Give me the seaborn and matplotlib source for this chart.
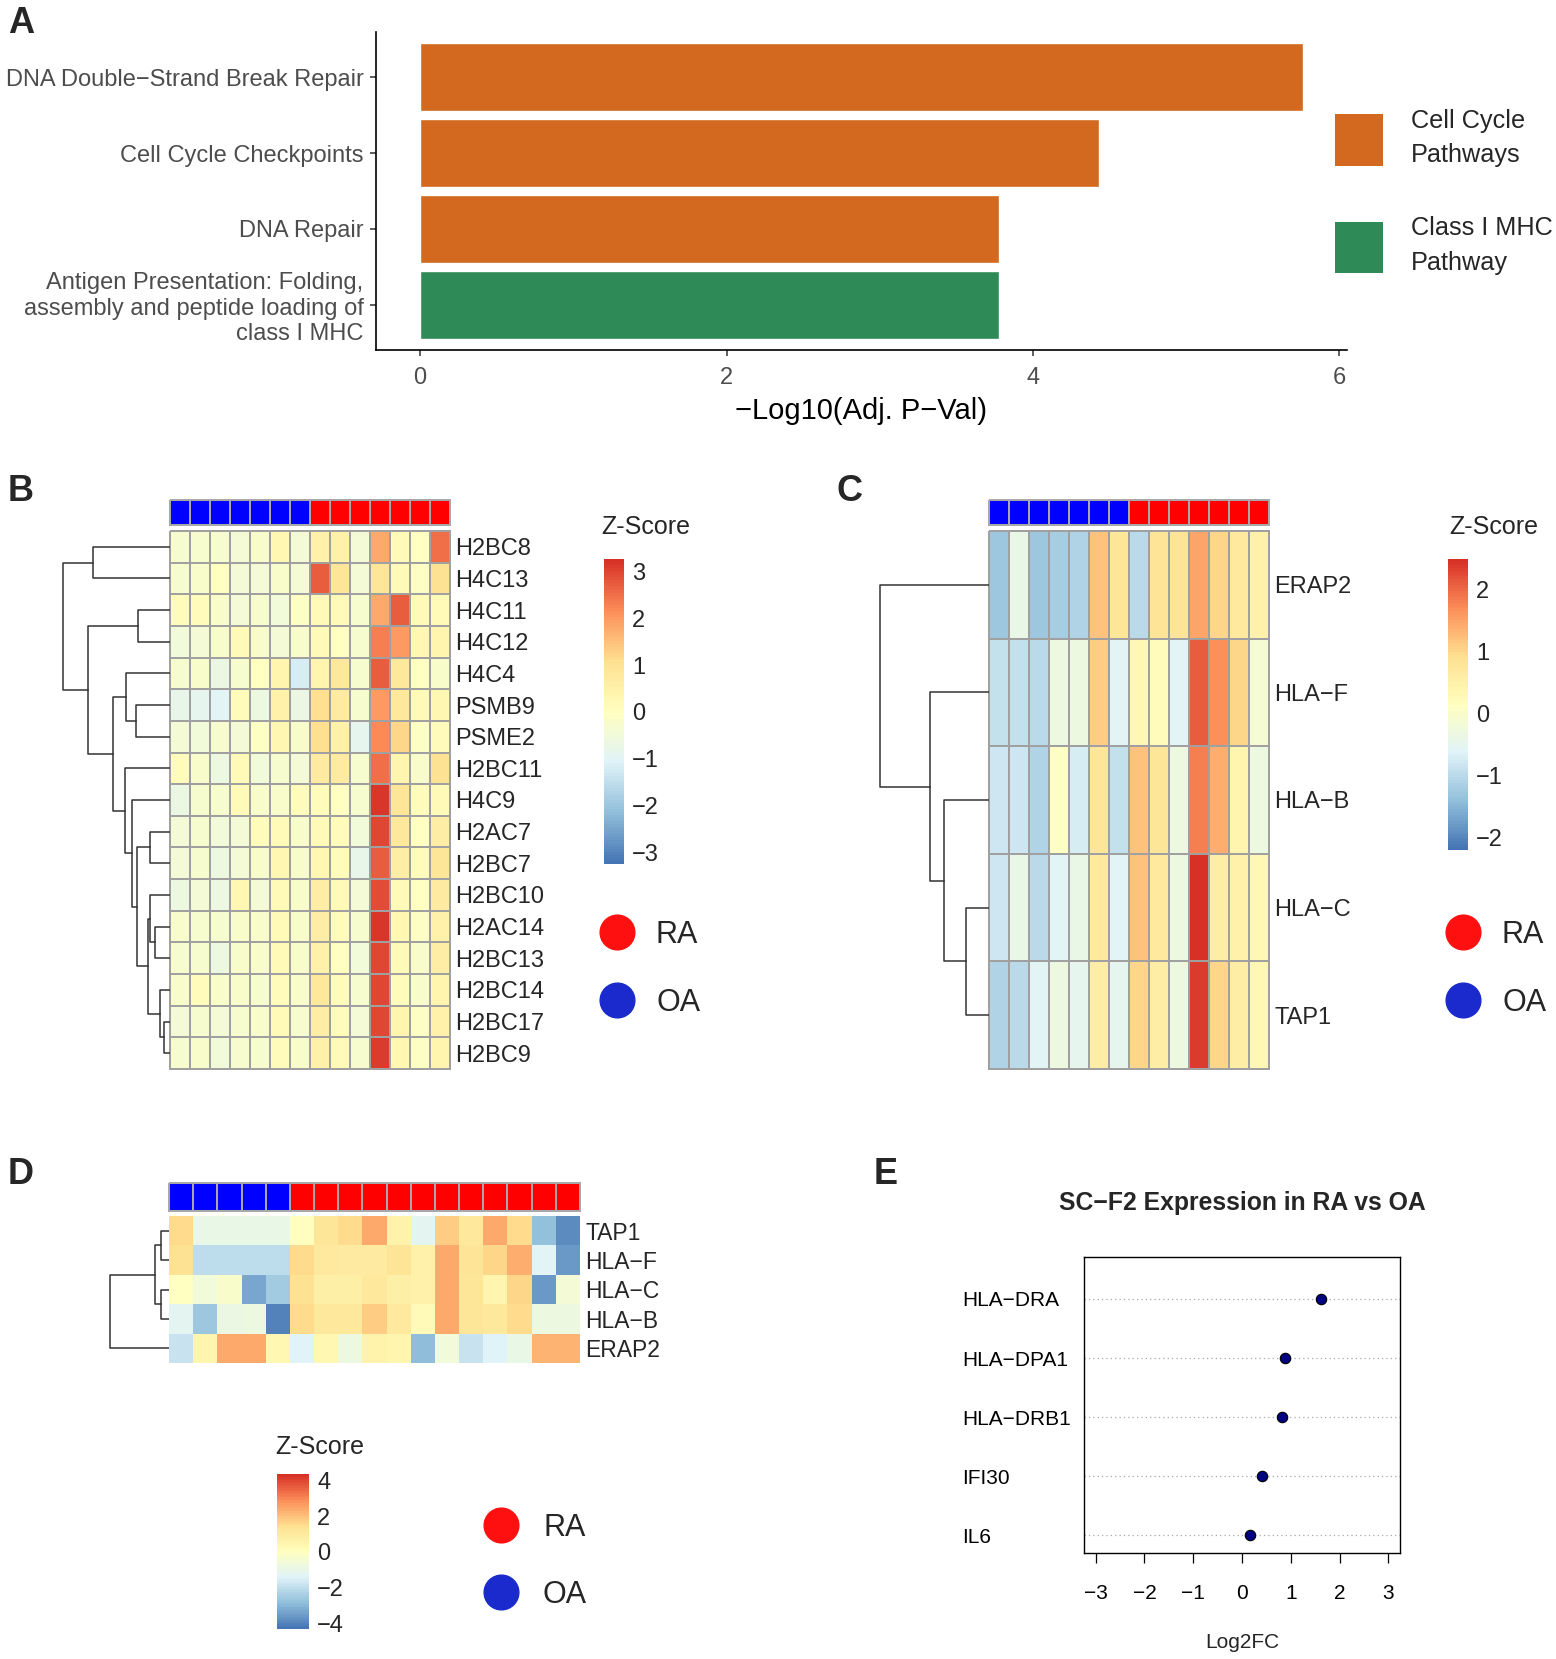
import numpy as np
import pandas as pd
import matplotlib
matplotlib.use("Agg")
import matplotlib.pyplot as plt
import seaborn as sns
from matplotlib.colors import LinearSegmentedColormap, ListedColormap
from matplotlib.patches import Patch
from matplotlib.lines import Line2D

# ---------------- DATA ----------------
# Panel A
A_pathways = ["DNA Double\u2212Strand Break Repair", "Cell Cycle Checkpoints", "DNA Repair",
              "Antigen Presentation: Folding,\nassembly and peptide loading of\nclass I MHC"]
A_neglog10p = [5.76, 4.43, 3.78, 3.78]
A_group = ["Cell Cycle Pathways", "Cell Cycle Pathways", "Cell Cycle Pathways", "Class I MHC Pathway"]
A_group_labels = ["Cell Cycle\nPathways", "Class I MHC\nPathway"]
A_xticks = [0, 2, 4, 6]

# Panel B
B_genes = ["H2BC8", "H4C13", "H4C11", "H4C12", "H4C4", "PSMB9", "PSME2", "H2BC11", "H4C9",
           "H2AC7", "H2BC7", "H2BC10", "H2AC14", "H2BC13", "H2BC14", "H2BC17", "H2BC9"]
B_samples = ["OA", "OA", "OA", "OA", "OA", "OA", "OA", "RA", "RA", "RA", "RA", "RA", "RA", "RA"]
B_z = [
    [-0.3, -0.3, -0.3, -0.4, -0.2, 0.3, -0.4, 0.5, 0.5, -0.4, 1.8, 0.2, 0.0, 2.5],
    [-0.3, -0.2, 0.0, -0.4, -0.4, -0.2, -0.4, 2.7, 0.9, -0.4, 0.9, 0.2, -0.1, 1.0],
    [0.1, 0.1, -0.2, -0.4, -0.3, -0.5, -0.1, 0.2, 0.2, -0.3, 1.8, 2.7, 0.2, 0.2],
    [-0.5, -0.4, -0.2, 0.2, -0.2, -0.4, -0.2, 0.2, 0.0, -0.3, 2.3, 2.0, 0.3, 0.4],
    [-0.3, -0.2, -0.7, -0.3, 0.0, 0.4, -1.2, 0.4, 0.8, -0.3, 2.7, 0.8, 0.0, -0.2],
    [-0.8, -0.9, -1.0, 0.1, -0.6, 0.5, -0.7, 1.1, 0.7, -0.3, 2.0, 0.8, 0.2, 0.3],
    [-0.4, -0.5, -0.3, -0.4, -0.1, 0.3, -0.2, 1.1, 0.5, -0.9, 2.2, 1.2, -0.1, 0.1],
    [0.1, -0.2, -0.6, 0.2, -0.5, -0.3, -0.4, 0.7, 0.7, -0.3, 2.5, 0.4, -0.2, 1.0],
    [-0.7, -0.3, -0.3, 0.2, -0.2, -0.2, 0.1, 0.1, 0.0, -0.3, 3.2, 0.9, 0.1, 0.2],
    [-0.4, -0.3, -0.5, -0.4, 0.1, 0.2, -0.2, 0.2, 0.1, -0.5, 3.0, 0.8, 0.0, 0.6],
    [-0.4, -0.3, -0.6, -0.4, -0.2, 0.3, -0.2, 0.3, 0.1, -0.8, 2.7, 0.6, 0.1, 0.9],
    [-0.6, -0.4, -0.6, 0.3, -0.4, 0.2, -0.2, 0.6, 0.2, -0.4, 2.9, 0.2, 0.0, 0.7],
    [-0.2, -0.3, -0.3, -0.2, -0.2, 0.2, -0.2, 0.6, 0.1, -0.3, 3.2, 0.3, -0.1, 0.5],
    [-0.3, -0.3, -0.6, -0.2, -0.2, 0.2, -0.2, 0.5, 0.0, -0.5, 3.0, 0.2, -0.2, 0.6],
    [-0.2, 0.1, -0.2, -0.2, -0.3, 0.1, -0.2, 0.8, 0.1, -0.3, 3.0, 0.1, -0.2, 0.4],
    [-0.4, -0.3, -0.4, -0.3, -0.2, 0.2, -0.3, 0.6, 0.1, -0.4, 3.0, 0.4, -0.1, 0.5],
    [-0.3, -0.2, -0.5, -0.3, -0.3, 0.1, -0.2, 0.5, 0.2, -0.3, 3.1, 0.3, -0.1, 0.4],
]
B_range = (-3.25, 3.27)
B_cbar_ticks = [3, 2, 1, 0, -1, -2, -3]
# linkage: (child_a, child_b, height); ids >= n_leaves are merges in order
B_link = [(0, 1, 77), (2, 3, 32), (5, 6, 34), (4, 19, 44), (9, 10, 20), (12, 13, 15),
          (11, 22, 20), (15, 16, 6), (14, 24, 10), (23, 25, 22), (21, 26, 33), (8, 27, 38),
          (7, 28, 45), (20, 29, 57), (18, 30, 82), (17, 31, 107)]

# Panel C
C_genes = ["ERAP2", "HLA\u2212F", "HLA\u2212B", "HLA\u2212C", "TAP1"]
C_samples = ["OA", "OA", "OA", "OA", "OA", "OA", "OA", "RA", "RA", "RA", "RA", "RA", "RA", "RA"]
C_z = [
    [-1.3, -0.4, -1.3, -1.2, -1.1, 1.2, 0.8, -1.0, 0.85, 0.85, 1.5, 1.0, 0.7, 0.5],
    [-0.9, -0.9, -1.0, -0.3, -0.3, 1.1, -0.6, 0.3, 0.2, -0.6, 2.1, 1.7, 1.0, -0.1],
    [-0.8, -0.8, -1.1, 0.1, -0.7, 0.8, -0.9, 1.2, 0.8, -0.3, 1.8, 1.4, 0.4, -0.3],
    [-0.8, -0.4, -1.0, -0.6, -0.4, 0.7, -0.6, 1.2, 0.7, -0.3, 2.5, 0.6, 0.5, 0.3],
    [-1.1, -1.0, -0.6, -0.3, -0.5, 0.6, -0.5, 1.0, 0.6, -0.3, 2.4, 1.0, 0.6, 0.3],
]
C_range = (-2.2, 2.5)
C_cbar_ticks = [2, 1, 0, -1, -2]
C_link = [(3, 4, 23), (2, 5, 45), (1, 6, 59), (0, 7, 109)]

# Panel D
D_genes = ["TAP1", "HLA\u2212F", "HLA\u2212C", "HLA\u2212B", "ERAP2"]
D_samples = ["OA", "OA", "OA", "OA", "OA", "RA", "RA", "RA", "RA", "RA", "RA",
             "RA", "RA", "RA", "RA", "RA", "RA"]
D_z = [
    [1.5, -1.0, -1.0, -1.0, -1.0, 0.1, 1.2, 1.5, 2.4, 0.6, -1.2, 1.8, 1.1, 2.4, 1.5, -2.8, -3.8],
    [1.4, -2.0, -2.0, -2.0, -2.0, 1.5, 1.0, 0.9, 0.9, 1.3, 0.7, 2.4, 1.3, 1.6, 2.3, -1.3, -3.6],
    [0.0, -0.6, -0.3, -3.3, -2.5, 1.4, 0.8, 0.8, 1.1, 0.8, 0.7, 2.4, 1.2, 0.5, 1.6, -3.6, -0.5],
    [-1.2, -2.6, -0.9, -0.8, -4.0, 1.5, 1.1, 1.1, 1.8, 1.0, 0.2, 2.4, 1.2, 1.1, 1.5, -0.8, -0.8],
    [-1.8, 0.5, 2.4, 2.4, 0.4, -1.4, 0.4, -0.8, 0.6, 0.5, -2.9, -0.6, -1.8, -1.4, -1.0, 2.2, 2.2],
]
D_range = (-4.3, 4.35)
D_cbar_ticks = [4, 2, 0, -2, -4]
D_link = [(0, 1, 8), (2, 3, 8), (5, 6, 14), (4, 7, 59)]

# Panel E
E_genes = ["HLA\u2212DRA", "HLA\u2212DPA1", "HLA\u2212DRB1", "IFI30", "IL6"]
E_log2fc = [1.61, 0.88, 0.83, 0.40, 0.16]
E_xticks = [-3, -2, -1, 0, 1, 2, 3]

groups = ["RA", "OA"]
group_colors = {"RA": "#FF0000", "OA": "#0000FF"}
legend_dot_colors = {"RA": "#FF1010", "OA": "#1A2ACC"}
pathway_colors = {"Cell Cycle Pathways": "#D2691E", "Class I MHC Pathway": "#2E8B57"}
heat_cmap = LinearSegmentedColormap.from_list(
    "rdylbu_rev", ["#4575B4", "#91BFDB", "#E0F3F8", "#FFFFBF", "#FEE090", "#FC8D59", "#D73027"], N=100)

# ---------------- STYLE ----------------
sns.set_theme(style="white")
plt.rcParams["font.family"] = ["Liberation Sans", "DejaVu Sans"]
plt.rcParams["axes.unicode_minus"] = True

W, H = 1556, 1659
fig = plt.figure(figsize=(W / 100, H / 100), dpi=100)


def axes_px(x0, y0, x1, y1):
    return fig.add_axes([x0 / W, 1 - y1 / H, (x1 - x0) / W, (y1 - y0) / H])


def draw_dendro(ax, link, n_leaves, width_units):
    pos = {i: i + 0.5 for i in range(n_leaves)}
    hts = {i: 0.0 for i in range(n_leaves)}
    for k, (a, b, h) in enumerate(link):
        nid = n_leaves + k
        ya, yb = pos[a], pos[b]
        ax.plot([hts[a], h, h, hts[b]], [ya, ya, yb, yb], color="#333333", lw=1.1,
                solid_capstyle="projecting")
        pos[nid] = (ya + yb) / 2
        hts[nid] = h
    ax.set_ylim(n_leaves, 0)
    ax.set_xlim(width_units, 0)
    ax.axis("off")


def annotation_bar(ax, samples):
    codes = np.array([[0 if s == "OA" else 1 for s in samples]])
    sns.heatmap(codes, ax=ax, cmap=ListedColormap([group_colors["OA"], group_colors["RA"]]),
                vmin=0, vmax=1, cbar=False, linewidths=1.2, linecolor="#A8A8A8",
                xticklabels=False, yticklabels=False)
    ax.collections[0].set_clip_on(False)


def heat_panel(ax, cax, z, genes, samples, vrange, ticks, borders, label_size):
    df = pd.DataFrame(z, index=genes, columns=[f"{s}{i}" for i, s in enumerate(samples)])
    sns.heatmap(df, ax=ax, cmap=heat_cmap, vmin=vrange[0], vmax=vrange[1],
                linewidths=1.2 if borders else 0, linecolor="#A0A0A0",
                xticklabels=False, yticklabels=True, cbar_ax=cax,
                cbar_kws={"ticks": ticks})
    if borders:
        ax.collections[0].set_clip_on(False)
    ax.yaxis.tick_right()
    ax.tick_params(axis="y", length=0, pad=4, labelsize=label_size, labelrotation=0,
                   labelright=True, labelleft=False)
    for t in ax.get_yticklabels():
        t.set_ha("left")
    ax.set_xlabel("")
    ax.set_ylabel("")
    cb = ax.collections[0].colorbar
    cb.outline.set_visible(False)
    cax.tick_params(length=0, labelsize=17, pad=6)
    return cb


def dot_legend(x_left, y_center, pad_px, spacing):
    handles = [Line2D([0], [0], marker="o", linestyle="", markersize=25,
                      markerfacecolor=legend_dot_colors[g], markeredgecolor=legend_dot_colors[g])
               for g in groups]
    fs = 22
    fpx = fs * 100 / 72
    fig.legend(handles, groups, loc="center left",
               bbox_to_anchor=(x_left / W, 1 - y_center / H), frameon=False, fontsize=fs,
               handlelength=35 / fpx, handletextpad=pad_px / fpx, labelspacing=spacing,
               borderpad=0, borderaxespad=0)


# ---------------- PANEL A ----------------
axA = axes_px(376, 32, 1347, 350)
dfA = pd.DataFrame({"pathway": A_pathways, "value": A_neglog10p, "group": A_group})
sns.barplot(data=dfA, y="pathway", x="value", hue="group", palette=pathway_colors,
            dodge=False, width=0.9, saturation=1, legend=False, ax=axA)
axA.set_xlim(-0.288, 6.05)
axA.set_ylim(3.6, -0.6)
axA.set_xticks(A_xticks)
axA.spines[["top", "right"]].set_visible(False)
for s in ["left", "bottom"]:
    axA.spines[s].set_color("black")
    axA.spines[s].set_linewidth(1.2)
axA.tick_params(axis="both", length=4, width=1.1, color="#333333", labelcolor="#4D4D4D",
                labelsize=17, left=True, bottom=True)
axA.tick_params(axis="y", pad=5)
axA.tick_params(axis="x", pad=8)
axA.set_ylabel("")
axA.set_xlabel("\u2212Log10(Adj. P\u2212Val)", fontsize=21, labelpad=6, color="black")
fsA = 18.2
legA = fig.legend([Patch(facecolor=pathway_colors[g], edgecolor="none") for g in pathway_colors],
                  A_group_labels, loc="upper left", bbox_to_anchor=(1335 / W, 1 - 109 / H),
                  frameon=False, fontsize=fsA, handlelength=48 / (fsA * 100 / 72),
                  handleheight=2.75, handletextpad=1.1, labelspacing=1.94,
                  borderpad=0, borderaxespad=0)
for t in legA.get_texts():
    t.set_linespacing(1.55)

# ---------------- PANEL B ----------------
axB_ann = axes_px(170, 500, 450, 525)
annotation_bar(axB_ann, B_samples)
axB = axes_px(170, 531, 450, 1069)
caxB = axes_px(604, 559, 624, 864)
heat_panel(axB, caxB, B_z, B_genes, B_samples, B_range, B_cbar_ticks, True, 17)
axB_d = axes_px(60, 531, 170, 1069)
draw_dendro(axB_d, B_link, len(B_genes), 110)
fig.text(601 / W, 1 - 527 / H, "Z-Score", fontsize=18, ha="left", va="center")
dot_legend(599.5, 969, 21.5, 1.25)

# ---------------- PANEL C ----------------
axC_ann = axes_px(989, 500, 1269, 525)
annotation_bar(axC_ann, C_samples)
axC = axes_px(989, 531, 1269, 1069)
caxC = axes_px(1448, 559, 1468, 850)
heat_panel(axC, caxC, C_z, C_genes, C_samples, C_range, C_cbar_ticks, True, 17)
axC_d = axes_px(878, 531, 989, 1069)
draw_dendro(axC_d, C_link, len(C_genes), 111)
fig.text(1449 / W, 1 - 527 / H, "Z-Score", fontsize=18, ha="left", va="center")
dot_legend(1445.5, 969, 21.5, 1.25)

# ---------------- PANEL D ----------------
axD_ann = axes_px(169, 1183, 580, 1211)
annotation_bar(axD_ann, D_samples)
axD = axes_px(169, 1216, 580, 1363)
caxD = axes_px(277, 1474, 309, 1629)
heat_panel(axD, caxD, D_z, D_genes, D_samples, D_range, D_cbar_ticks, False, 16.5)
caxD.tick_params(axis="y", which="both", direction="in", length=5, width=1.2, color="white",
                 left=True, right=True, pad=6)
axD_d = axes_px(108, 1216, 169, 1363)
draw_dendro(axD_d, D_link, len(D_genes), 61)
fig.text(275 / W, 1 - 1447 / H, "Z-Score", fontsize=18, ha="left", va="center")
dot_legend(483.5, 1561.5, 24.5, 1.2)

# ---------------- PANEL E ----------------
axE = axes_px(1084, 1257, 1400, 1553)
sns.stripplot(x=E_log2fc, y=E_genes, jitter=False, size=7.5, color="#000080",
              edgecolor="black", linewidth=0.8, ax=axE, zorder=3)
axE.set_xlim(-3.24, 3.24)
axE.set_ylim(4.3, -0.71)
axE.set_xticks(E_xticks)
axE.yaxis.grid(True, linestyle=(0, (1, 2.5)), color="#A8A8A8", lw=0.9)
axE.xaxis.grid(False)
for s in axE.spines.values():
    s.set_color("black")
    s.set_linewidth(1.0)
axE.tick_params(axis="x", bottom=True, length=7, width=0.9, color="black", pad=15,
                labelsize=15, labelcolor="black")
axE.tick_params(axis="y", left=False, length=0, pad=122 * 72 / 100, labelsize=15,
                labelcolor="black")
for t in axE.get_yticklabels():
    t.set_ha("left")
fig.text(1242 / W, 1 - 1203 / H, "SC\u2212F2 Expression in RA vs OA", fontsize=17.8,
         fontweight="bold", ha="center", va="center")
fig.text(1242 / W, 1 - 1642 / H, "Log2FC", fontsize=15, ha="center", va="center")

# ---------------- PANEL LETTERS ----------------
for letter, x, yb in [("A", 8, 33), ("B", 8, 501), ("C", 836, 501), ("D", 8, 1184), ("E", 874, 1184)]:
    fig.text(x / W, 1 - yb / H, letter, fontsize=26, fontweight="bold", ha="left", va="baseline")

fig.savefig("out.png", dpi=100)
